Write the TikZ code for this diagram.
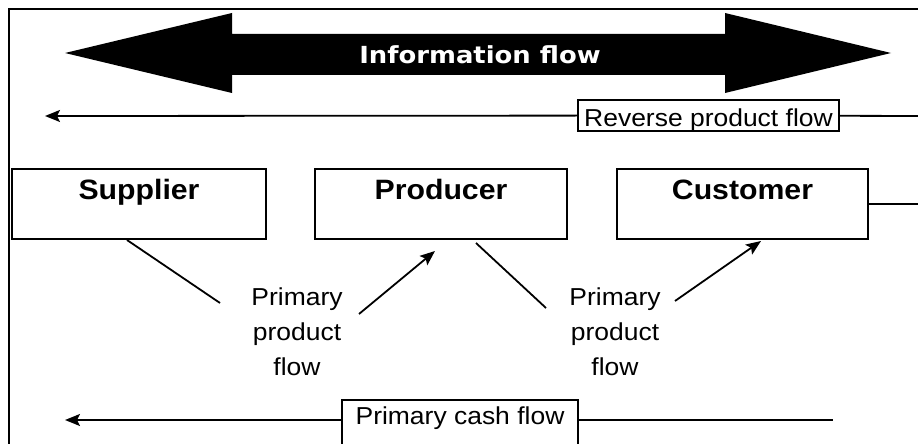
\documentclass[tikz,border=0pt]{standalone}
\usepackage{fontspec}
\setmainfont{Liberation Sans}[FakeStretch=1.08]
\newfontfamily\infofont{DejaVu Sans}[FakeStretch=1.1]
\usetikzlibrary{arrows.meta}
\begin{document}
\begin{tikzpicture}[x=1pt,y=-1pt,
  frame/.style={line width=2pt},
  box/.style={draw, line width=2pt, inner sep=0pt, align=center, anchor=base},
  bigbox/.style={box, font=\bfseries\fontsize{28}{30}\selectfont, text height=30pt, text depth=40pt},
  smallbox/.style={box, line width=1.6pt, font=\fontsize{24.5}{28}\selectfont},
  conn/.style={line width=1.8pt},
  arr/.style={conn, -{Stealth[length=15pt,width=12pt,inset=3pt]}},
  lbl/.style={font=\fontsize{24.5}{35}\selectfont, align=center, inner sep=0pt},
]
\useasboundingbox (0,0) rectangle (918,444);
\begin{scope}
\clip (0,0) rectangle (918,444);
\draw[frame] (9,9) rectangle (940,470);

% information flow arrow
\fill (65,53) -- (232,13) -- (232,34) -- (725,34) -- (725,13) -- (891,53)
  -- (725,93) -- (725,75) -- (232,75) -- (232,93) -- cycle;
\node[font=\infofont\bfseries\fontsize{23.5}{28}\selectfont, text=white] (info) at (480,55) {Information flow};

% reverse product flow
\node[smallbox, minimum width=261pt, text height=26pt, text depth=5pt] (rev) at (708.5,126) {Reverse product flow};
\coordinate (revR) at (925,116);
\coordinate (revL) at (45,116);
\draw[conn] (revR) -- (rev);
\draw[arr] (rev) -- (revL);

% actors
\node[bigbox, minimum width=254pt] (sup) at (139,199) {Supplier};
\node[bigbox, minimum width=252pt] (prod) at (441,199) {Producer};
\node[bigbox, minimum width=251pt] (cust) at (742.5,199) {Customer};
\coordinate (custR) at (925,204);
\draw[conn] (cust.east) -- (custR);

% primary product flows
\coordinate (d1s) at (127,240);
\coordinate (d1e) at (220,303);
\coordinate (a1s) at (359,314);
\coordinate (a1e) at (435,251);
\coordinate (d2s) at (476,243);
\coordinate (d2e) at (546,308);
\coordinate (a2s) at (675,301);
\coordinate (a2e) at (761,241);
\draw[conn] (d1s) -- (d1e);
\draw[arr] (a1s) -- (a1e);
\draw[conn] (d2s) -- (d2e);
\draw[arr] (a2s) -- (a2e);
\node[lbl, anchor=base] (pp1) at (297,375) {Primary\\product\\flow};
\node[lbl, anchor=base] (pp2) at (615,375) {Primary\\product\\flow};

% primary cash flow
\node[smallbox, minimum width=236pt, text height=24pt, text depth=40pt] (cash) at (460,424) {Primary cash flow};
\coordinate (cashL) at (65,420);
\coordinate (cashR) at (833,420);
\draw[arr] (cash.west |- cashL) -- (cashL);
\draw[conn] (cash.east |- cashR) -- (cashR);
\end{scope}
\end{tikzpicture}
\end{document}
